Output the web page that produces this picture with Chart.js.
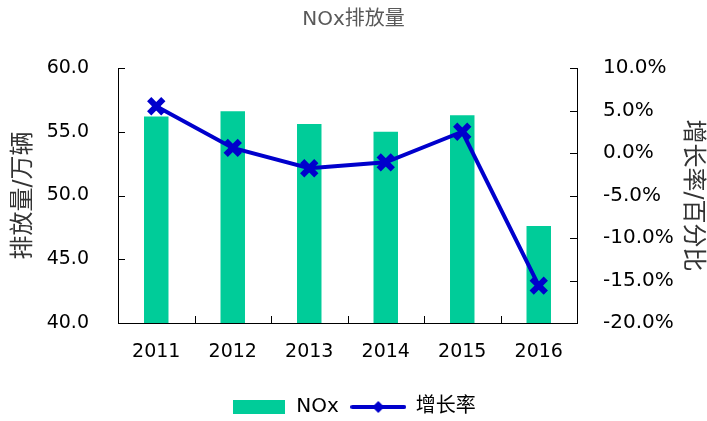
<!DOCTYPE html>
<html>
<head>
<meta charset="utf-8">
<script src="https://cdn.jsdelivr.net/npm/chart.js@4"></script>
<style>
  html, body { margin: 0; padding: 0; background: #fff; }
  #wrap { width: 707px; height: 421px; }
</style>
</head>
<body>
<div id="wrap"><canvas id="chart"></canvas></div>
<script>
// Data
const years = ['2011', '2012', '2013', '2014', '2015', '2016'];
const noxValues = [56.2, 56.6, 55.6, 55.0, 56.3, 47.6];      // 万辆
const growthRates = [5.5, 0.6, -1.8, -1.1, 2.5, -15.6];       // %

const BAR_COLOR = '#00CC99';
const LINE_COLOR = '#0000CC';
const FONT = "'DejaVu Sans', 'Noto Sans CJK SC', sans-serif";

// Legend swatches drawn on small canvases
const makeBarSwatch = () => {
    const c = document.createElement('canvas');
    c.width = 52; c.height = 14;
    const g = c.getContext('2d');
    g.fillStyle = BAR_COLOR;
    g.fillRect(0, 0, 52, 14);
    return c;
};
const makeLineSwatch = () => {
    const c = document.createElement('canvas');
    c.width = 56; c.height = 14;
    const g = c.getContext('2d');
    g.strokeStyle = LINE_COLOR;
    g.lineWidth = 4;
    g.lineCap = 'round';
    g.beginPath(); g.moveTo(2, 7); g.lineTo(54, 7); g.stroke();
    g.fillStyle = LINE_COLOR;
    g.beginPath(); g.moveTo(28, 1); g.lineTo(34, 7); g.lineTo(28, 13); g.lineTo(22, 7); g.closePath(); g.fill();
    return c;
};
const swatches = [makeBarSwatch(), makeLineSwatch()];

// Small tick marks pointing into the plot area
const innerTicks = {
    id: 'innerTicks',
    afterDraw(chart) {
        const { ctx, chartArea: a, scales } = chart;
        const len = 7;
        ctx.save();
        ctx.strokeStyle = '#000';
        ctx.lineWidth = 1;
        ctx.beginPath();
        scales.y.ticks.forEach((t, i) => {
            const y = Math.round(scales.y.getPixelForTick(i)) + 0.5;
            ctx.moveTo(a.left, y); ctx.lineTo(a.left + len, y);
        });
        scales.y1.ticks.forEach((t, i) => {
            const y = Math.round(scales.y1.getPixelForTick(i)) + 0.5;
            ctx.moveTo(a.right - len, y); ctx.lineTo(a.right, y);
        });
        const n = years.length;
        for (let i = 0; i <= n; i++) {
            const x = Math.round(a.left + i * (a.right - a.left) / n) + 0.5;
            ctx.moveTo(x, a.bottom); ctx.lineTo(x, a.bottom - len);
        }
        ctx.stroke();
        ctx.restore();
    }
};

const ctx = document.getElementById('chart').getContext('2d');
new Chart(ctx, {
    data: {
        labels: years,
        datasets: [
            {
                type: 'bar',
                label: 'NOx',
                data: noxValues,
                backgroundColor: BAR_COLOR,
                yAxisID: 'y',
                categoryPercentage: 1,
                barPercentage: 0.32,
                order: 2
            },
            {
                type: 'line',
                label: '增长率',
                data: growthRates,
                borderColor: LINE_COLOR,
                backgroundColor: LINE_COLOR,
                borderWidth: 4,
                pointStyle: 'crossRot',
                pointRadius: 10,
                pointBorderWidth: 6,
                pointHoverRadius: 10,
                tension: 0,
                yAxisID: 'y1',
                order: 1
            }
        ]
    },
    options: {
        responsive: true,
        maintainAspectRatio: false,
        animation: false,
        layout: { padding: { left: 0, right: 0, top: 0, bottom: -6 } },
        plugins: {
            title: {
                display: true,
                text: 'NOx排放量',
                color: '#595959',
                font: { family: FONT, size: 20, weight: 'normal' },
                padding: { top: 8, bottom: 36 }
            },
            legend: {
                position: 'bottom',
                labels: {
                    usePointStyle: true,
                    pointStyleWidth: 55,
                    boxHeight: 14,
                    padding: 12,
                    color: '#000',
                    font: { family: FONT, size: 20 },
                    sort: (a, b) => a.datasetIndex - b.datasetIndex,
                    generateLabels: (chart) => {
                        const items = Chart.defaults.plugins.legend.labels.generateLabels(chart);
                        items.forEach((it) => { it.pointStyle = swatches[it.datasetIndex]; it.rotation = 0; });
                        return items;
                    }
                }
            },
            tooltip: { enabled: false }
        },
        scales: {
            x: {
                offset: true,
                grid: { display: true, drawOnChartArea: false, drawTicks: false },
                border: { display: true, color: '#000', width: 1 },
                ticks: { color: '#000', padding: 18, font: { family: FONT, size: 19 } },
                afterFit: (scale) => { scale.height = 62; }
            },
            y: {
                position: 'left',
                min: 40,
                max: 60,
                grid: { display: true, drawOnChartArea: false, drawTicks: false },
                border: { display: true, color: '#000', width: 1 },
                ticks: {
                    stepSize: 5,
                    color: '#000',
                    padding: 29,
                    font: { family: FONT, size: 19 },
                    callback: (value) => value.toFixed(1)
                },
                title: {
                    display: true,
                    text: '排放量/万辆',
                    color: '#333',
                    font: { family: FONT, size: 24 },
                    padding: { top: 9, bottom: 0 }
                },
                afterFit: (scale) => { scale.width = 118; }
            },
            y1: {
                position: 'right',
                min: -20,
                max: 10,
                grid: { display: true, drawOnChartArea: false, drawTicks: false },
                border: { display: true, color: '#000', width: 1 },
                ticks: {
                    stepSize: 5,
                    color: '#000',
                    padding: 26,
                    font: { family: FONT, size: 20 },
                    callback: (value) => `${value.toFixed(1)}%`
                },
                title: {
                    display: true,
                    text: '增长率/百分比',
                    color: '#333',
                    font: { family: FONT, size: 24 },
                    padding: { top: 0, bottom: 0 }
                },
                afterFit: (scale) => { scale.width = 130; }
            }
        }
    },
    plugins: [innerTicks]
});
</script>
</body>
</html>
